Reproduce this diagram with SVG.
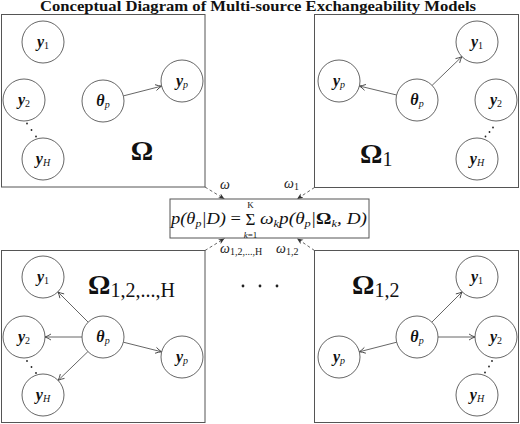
<svg xmlns="http://www.w3.org/2000/svg" width="520" height="424" viewBox="0 0 520 424">
<defs>
<marker id="arr" viewBox="0 0 8 8" refX="7" refY="4" markerWidth="8" markerHeight="8" markerUnits="userSpaceOnUse" orient="auto">
<path d="M1,1 Q4,3 7,4 Q4,5 1,7" fill="none" stroke="#444" stroke-width="0.9"/>
</marker>
<marker id="darr" viewBox="0 0 8 8" refX="7" refY="4" markerWidth="7" markerHeight="7" markerUnits="userSpaceOnUse" orient="auto">
<path d="M0,1 L7,4 L0,7 L2,4 Z" fill="#333"/>
</marker>
</defs>
<style>
.frame{fill:#fff;stroke:#555;stroke-width:1}
.node circle{fill:#fff;stroke:#555;stroke-width:0.9}
.lbl{font-family:"Liberation Serif",serif;font-weight:bold;font-style:italic;font-size:16px;fill:#111;text-anchor:middle}
.sub{font-size:10px;font-weight:normal;font-style:normal}
.subi{font-size:10px;font-weight:normal;font-style:italic}
.edge{stroke:#555;stroke-width:0.9;fill:none;marker-end:url(#arr)}
.dash{stroke:#555;stroke-width:0.9;fill:none;stroke-dasharray:3,2.5;marker-end:url(#darr)}
.dot{fill:#222}
.big{font-family:"Liberation Serif",serif;font-weight:bold;font-size:28px;fill:#111}
.bigsub{font-family:"Liberation Serif",serif;font-weight:normal;font-size:20px;fill:#111}
.w{font-family:"Liberation Serif",serif;font-style:italic;font-size:14px;fill:#222}
.ws{font-style:normal;font-size:10px}
.f{font-family:"Liberation Serif",serif;font-style:italic;font-size:17px;fill:#111}
.lim{font-family:"Liberation Serif",serif;font-size:9px;fill:#111;text-anchor:middle}
.title{font-family:"Liberation Serif",serif;font-weight:bold;font-size:14px;fill:#111;text-anchor:middle}
</style>
<rect width="520" height="424" fill="#fff"/>
<text class="title" x="258" y="11" textLength="436" lengthAdjust="spacingAndGlyphs">Conceptual Diagram of Multi-source Exchangeability Models</text>

<g id="panel-omega">
<rect class="frame" x="1.5" y="14.5" width="203.5" height="172.5"/>
<text class="big" x="142" y="160" text-anchor="middle">Ω</text>
</g>
<g id="panel-omega1">
<rect class="frame" x="314.5" y="14.5" width="204" height="173"/>
<text class="big" x="360" y="163">Ω<tspan class="bigsub" dy="3">1</tspan></text>
</g>
<g id="panel-omega12H">
<rect class="frame" x="1.5" y="250.5" width="203.5" height="172"/>
<text class="big" x="88" y="294">Ω<tspan class="bigsub" dy="3">1,2,...,H</tspan></text>
</g>
<g id="panel-omega12">
<rect class="frame" x="314.5" y="250.5" width="204" height="172"/>
<text class="big" x="352" y="294">Ω<tspan class="bigsub" dy="3">1,2</tspan></text>
</g>

<g id="connectors">
<line class="edge" x1="123.4" y1="95.9" x2="161.6" y2="86.1"/>
<line class="edge" x1="432.1" y1="85.4" x2="461.9" y2="56.6"/>
<line class="edge" x1="396.6" y1="95.0" x2="359.4" y2="86.0"/>
<line class="edge" x1="88.2" y1="322.2" x2="57.8" y2="291.8"/>
<line class="edge" x1="82" y1="337" x2="45" y2="337"/>
<line class="edge" x1="87.9" y1="351.6" x2="58.1" y2="380.4"/>
<line class="edge" x1="123.4" y1="342.2" x2="161.6" y2="351.8"/>
<line class="edge" x1="431.8" y1="322.2" x2="462.2" y2="291.8"/>
<line class="edge" x1="438" y1="337" x2="475" y2="337"/>
<line class="edge" x1="396.7" y1="342.2" x2="359.3" y2="351.8"/>
<line class="dash" x1="205" y1="187" x2="224.5" y2="199"/>
<line class="dash" x1="314.5" y1="187.5" x2="297" y2="199"/>
<line class="dash" x1="205" y1="250.5" x2="224.5" y2="238.5"/>
<line class="dash" x1="314.5" y1="250.5" x2="297" y2="238.5"/>
<text class="w" x="220" y="189">ω</text>
<text class="w" x="284" y="188">ω<tspan class="ws" dy="2">1</tspan></text>
<text class="w" x="220" y="253">ω<tspan class="ws" dy="2">1,2,...,H</tspan></text>
<text class="w" x="276" y="253">ω<tspan class="ws" dy="2">1,2</tspan></text>
</g>

<g id="tl-y1" class="node"><circle cx="43" cy="42" r="21"/><text class="lbl" x="43" y="47">y<tspan class="sub" dy="2">1</tspan></text></g>
<g id="tl-y2" class="node"><circle cx="24" cy="100" r="21"/><text class="lbl" x="24" y="105">y<tspan class="sub" dy="2">2</tspan></text></g>
<g id="tl-yH" class="node"><circle cx="43" cy="159" r="21"/><text class="lbl" x="43" y="164">y<tspan class="subi" dy="2">H</tspan></text></g>
<g id="tl-theta" class="node"><circle cx="103" cy="101" r="21"/><text class="lbl" x="103" y="106">θ<tspan class="subi" dy="2">p</tspan></text></g>
<g id="tl-yp" class="node"><circle cx="182" cy="81" r="21"/><text class="lbl" x="182" y="86">y<tspan class="subi" dy="2">p</tspan></text></g>
<g id="tl-dots"><circle class="dot" cx="27" cy="123.5" r="0.9"/><circle class="dot" cx="31.5" cy="130" r="0.9"/><circle class="dot" cx="36" cy="136.5" r="0.9"/></g>

<g id="tr-y1" class="node"><circle cx="477" cy="42" r="21"/><text class="lbl" x="477" y="47">y<tspan class="sub" dy="2">1</tspan></text></g>
<g id="tr-yp" class="node"><circle cx="339" cy="81" r="21"/><text class="lbl" x="339" y="86">y<tspan class="subi" dy="2">p</tspan></text></g>
<g id="tr-theta" class="node"><circle cx="417" cy="100" r="21"/><text class="lbl" x="417" y="105">θ<tspan class="subi" dy="2">p</tspan></text></g>
<g id="tr-y2" class="node"><circle cx="496" cy="100" r="21"/><text class="lbl" x="496" y="105">y<tspan class="sub" dy="2">2</tspan></text></g>
<g id="tr-yH" class="node"><circle cx="477" cy="159" r="21"/><text class="lbl" x="477" y="164">y<tspan class="subi" dy="2">H</tspan></text></g>
<g id="tr-dots"><circle class="dot" cx="493" cy="127.5" r="0.9"/><circle class="dot" cx="489.5" cy="132" r="0.9"/><circle class="dot" cx="485.5" cy="136.5" r="0.9"/></g>

<g id="formula">
<rect class="frame" x="170" y="199" width="199" height="39"/>
<text class="f" x="171" y="224" textLength="70" lengthAdjust="spacingAndGlyphs">p(θ<tspan font-size="11" dy="3">p</tspan><tspan dy="-3">|D) </tspan><tspan font-style="normal">=</tspan></text>
<text x="250.5" y="225" font-family="Liberation Serif,serif" font-size="17" text-anchor="middle" fill="#111">Σ</text>
<text class="lim" x="250.5" y="207.5">K</text>
<text class="lim" x="250.5" y="237.5"><tspan font-style="italic">k</tspan>=1</text>
<text class="f" x="260" y="224" textLength="107" lengthAdjust="spacingAndGlyphs">ω<tspan font-size="11" dy="3">k</tspan><tspan dy="-3">p(θ</tspan><tspan font-size="11" dy="3">p</tspan><tspan dy="-3">|</tspan><tspan font-style="normal" font-weight="bold">Ω</tspan><tspan font-size="11" dy="3">k</tspan><tspan dy="-3">, D)</tspan></text>
</g>

<g id="mid-dots"><circle class="dot" cx="243" cy="286" r="1.4"/><circle class="dot" cx="260" cy="286" r="1.4"/><circle class="dot" cx="277" cy="286" r="1.4"/></g>

<g id="bl-y1" class="node"><circle cx="43" cy="277" r="21"/><text class="lbl" x="43" y="282">y<tspan class="sub" dy="2">1</tspan></text></g>
<g id="bl-y2" class="node"><circle cx="24" cy="337" r="21"/><text class="lbl" x="24" y="342">y<tspan class="sub" dy="2">2</tspan></text></g>
<g id="bl-yH" class="node"><circle cx="43" cy="395" r="21"/><text class="lbl" x="43" y="400">y<tspan class="subi" dy="2">H</tspan></text></g>
<g id="bl-theta" class="node"><circle cx="103" cy="337" r="21"/><text class="lbl" x="103" y="342">θ<tspan class="subi" dy="2">p</tspan></text></g>
<g id="bl-yp" class="node"><circle cx="182" cy="357" r="21"/><text class="lbl" x="182" y="362">y<tspan class="subi" dy="2">p</tspan></text></g>
<g id="bl-dots"><circle class="dot" cx="27" cy="361" r="0.9"/><circle class="dot" cx="31.5" cy="367" r="0.9"/><circle class="dot" cx="36" cy="373" r="0.9"/></g>

<g id="br-y1" class="node"><circle cx="477" cy="277" r="21"/><text class="lbl" x="477" y="282">y<tspan class="sub" dy="2">1</tspan></text></g>
<g id="br-theta" class="node"><circle cx="417" cy="337" r="21"/><text class="lbl" x="417" y="342">θ<tspan class="subi" dy="2">p</tspan></text></g>
<g id="br-y2" class="node"><circle cx="496" cy="337" r="21"/><text class="lbl" x="496" y="342">y<tspan class="sub" dy="2">2</tspan></text></g>
<g id="br-yH" class="node"><circle cx="477" cy="395" r="21"/><text class="lbl" x="477" y="400">y<tspan class="subi" dy="2">H</tspan></text></g>
<g id="br-yp" class="node"><circle cx="339" cy="357" r="21"/><text class="lbl" x="339" y="362">y<tspan class="subi" dy="2">p</tspan></text></g>
<g id="br-dots"><circle class="dot" cx="492" cy="361" r="0.9"/><circle class="dot" cx="489" cy="366.5" r="0.9"/><circle class="dot" cx="485" cy="372.5" r="0.9"/></g>
</svg>
